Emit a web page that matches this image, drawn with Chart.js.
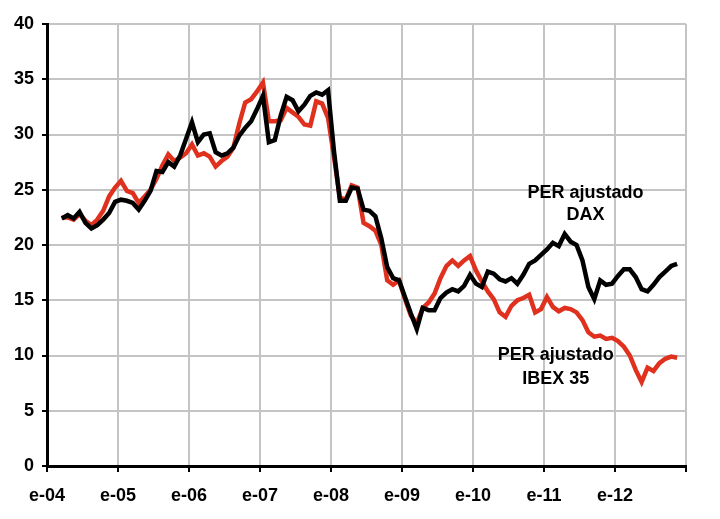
<!DOCTYPE html>
<html><head><meta charset="utf-8">
<style>html,body{margin:0;padding:0;background:#fff}#wrap{width:720px;height:519px;position:relative}</style>
<script src="https://cdn.jsdelivr.net/npm/chart.js@4/dist/chart.umd.min.js"></script>
</head><body><div id="wrap"><canvas id="c"></canvas></div>
<script>
// x axis: months since January 2004; one tick label per January
const tickLabels = ['e-04','e-05','e-06','e-07','e-08','e-09','e-10','e-11','e-12',''];
const firstMonth = 2; // March 2004 (monthly data, plotted mid-month)

const perDAX = [
22.4,22.7,22.4,23.0,22.0,21.5,21.8,22.3,22.9,23.9,24.1,24.0,23.8,23.2,24.0,24.9,26.7,26.6,27.5,27.1,
28.1,29.6,31.1,29.3,30.0,30.1,28.4,28.1,28.3,28.8,29.9,30.6,31.2,32.3,33.5,29.3,29.5,31.7,33.4,33.1,
32.1,32.7,33.5,33.8,33.6,34.0,28.5,24.0,24.0,25.2,25.1,23.2,23.1,22.6,20.6,18.0,17.0,16.8,15.3,13.8,
12.4,14.3,14.1,14.1,15.2,15.7,16.0,15.8,16.3,17.3,16.5,16.2,17.6,17.4,16.9,16.7,17.0,16.5,17.3,18.3,
18.6,19.1,19.6,20.2,19.9,21.0,20.3,20.0,18.6,16.2,15.1,16.8,16.4,16.5,17.2,17.8,17.8,17.1,16.0,15.8,
16.4,17.1,17.6,18.1,18.3];

const perIBEX = [
22.5,22.5,22.3,22.8,22.2,21.8,22.3,23.1,24.4,25.2,25.8,24.9,24.7,23.8,24.4,25.0,26.0,27.2,28.2,27.6,
27.9,28.3,29.1,28.1,28.3,28.0,27.1,27.6,28.0,28.8,31.0,32.9,33.2,33.9,34.7,31.2,31.2,31.3,32.4,32.0,
31.6,30.9,30.8,33.0,32.8,31.5,28.0,24.3,24.1,25.4,25.2,22.0,21.7,21.3,20.0,16.8,16.4,16.8,15.1,13.6,
12.9,14.3,14.8,15.6,17.0,18.1,18.6,18.1,18.6,19.0,17.7,16.7,15.8,15.1,13.9,13.5,14.5,15.0,15.2,15.5,
13.9,14.2,15.3,14.4,14.0,14.3,14.2,13.9,13.2,12.1,11.7,11.8,11.5,11.6,11.3,10.8,10.0,8.7,7.6,8.9,
8.6,9.3,9.7,9.9,9.8];

const months = perDAX.map((_, i) => firstMonth + i + 0.5);

const seriesNames = ['PER ajustado DAX', 'PER ajustado IBEX 35'];
const noteLines = [['PER ajustado','DAX'], ['PER ajustado','IBEX 35']];
const noteMonth = [91, 86];
const noteValue = [[24.7, 22.7], [10.0, 7.9]];

const FONT = 'bold 18px "Liberation Sans", Arial, sans-serif';

const notesPlugin = {
  id: 'notes',
  afterDatasetsDraw(chart) {
    const ctx = chart.ctx, xs = chart.scales.x, ys = chart.scales.y;
    ctx.save();
    ctx.font = FONT;
    ctx.fillStyle = '#000';
    ctx.textAlign = 'center';
    ctx.textBaseline = 'middle';
    noteLines.forEach((lines, k) => {
      lines.forEach((t, j) => {
        ctx.fillText(t, xs.getPixelForValue(noteMonth[k]), ys.getPixelForValue(noteValue[k][j]));
      });
    });
    ctx.restore();
  }
};

new Chart(document.getElementById('c'), {
  type: 'line',
  data: {
    datasets: [
      { label: seriesNames[0], data: months.map((m, i) => ({x: m, y: perDAX[i]})),
        borderColor: '#000000', borderWidth: 4.5, pointRadius: 0, tension: 0, fill: false },
      { label: seriesNames[1], data: months.map((m, i) => ({x: m, y: perIBEX[i]})),
        borderColor: '#e0301e', borderWidth: 4.5, pointRadius: 0, tension: 0, fill: false }
    ]
  },
  options: {
    responsive: true, maintainAspectRatio: false, animation: false,
    layout: { padding: { top: 24, right: 34, left: 0, bottom: 0 } },
    plugins: { legend: { display: false }, tooltip: { enabled: false } },
    scales: {
      x: {
        type: 'linear', min: 0, max: 108,
        afterFit: s => { s.height = 53; },
        ticks: { stepSize: 12, autoSkip: false, maxRotation: 0, color: '#000',
          font: { family: '"Liberation Sans", Arial, sans-serif', size: 18, weight: 'bold' },
          padding: 13,
          callback: v => tickLabels[Math.round(v / 12)] ?? '' },
        grid: { color: '#c4c4c4', lineWidth: 2, tickColor: '#000', tickLength: 6, tickWidth: 2 },
        border: { display: true, color: '#000', width: 3 }
      },
      y: {
        min: 0, max: 40,
        afterFit: s => { s.width = 47; },
        ticks: { stepSize: 5, color: '#000', padding: 8,
          font: { family: '"Liberation Sans", Arial, sans-serif', size: 18, weight: 'bold' } },
        grid: { color: '#c4c4c4', lineWidth: 2, tickColor: '#000', tickLength: 5, tickWidth: 2 },
        border: { display: true, color: '#000', width: 3 }
      }
    }
  },
  plugins: [notesPlugin]
});
</script></body></html>
